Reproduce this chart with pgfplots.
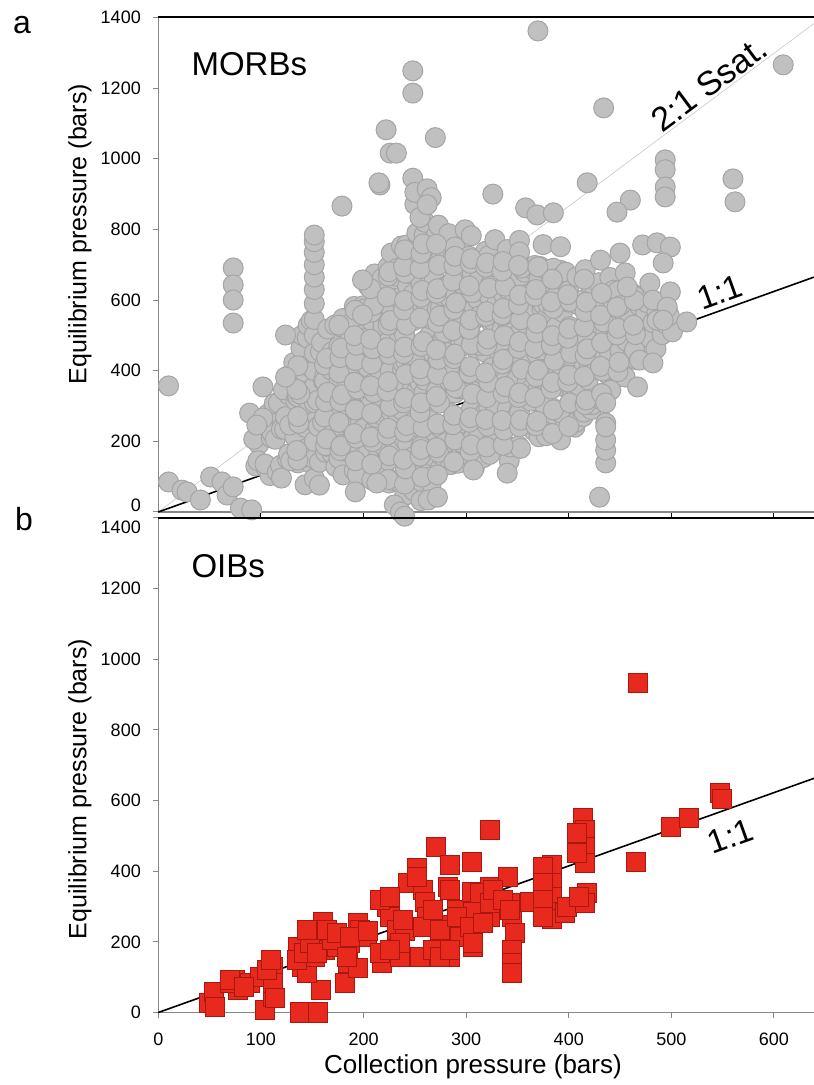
\documentclass[border=0pt]{standalone}
\usepackage{fontspec}
\setmainfont{Liberation Sans}
\usepackage{pgfplots}
\pgfplotsset{compat=1.18}
\definecolor{morbfill}{RGB}{192,192,192}
\definecolor{morbedge}{RGB}{165,165,165}
\definecolor{oibfill}{RGB}{232,42,30}
\definecolor{oibedge}{RGB}{170,22,16}
\definecolor{axgray}{RGB}{134,134,134}
\definecolor{thinline}{RGB}{200,200,200}
\pgfplotsset{
 panel/.style={
  scale only axis, width=655.7bp, height=494.5bp,
  xmin=0, xmax=639, ymin=0, ymax=1400,
  axis x line=bottom, axis y line=left,
  axis line style={axgray, line width=1.6bp, -},
  tick style={axgray, line width=1bp},
  tick align=outside, major tick length=5bp,
  tick label style={font=\fontsize{18bp}{21bp}\selectfont},
  yticklabel style={xshift=-9bp},
  xticklabel style={yshift=-12bp},
  /pgf/number format/assume math mode=true,
  /pgf/number format/1000 sep={},
  clip=false,
 }
}
\begin{document}
\begin{tikzpicture}
\useasboundingbox (0,0) rectangle (814bp,1085bp);
% ---------------- panel a ----------------
\begin{axis}[panel, at={(158.3bp,573bp)}, anchor=south west,
  xtick=\empty, ytick={200,400,...,1400},
  extra y ticks={0}, extra y tick style={yticklabel style={yshift=7bp}}]
\addplot[only marks, mark=*, mark size=10bp, mark options={fill=morbfill, draw=morbedge, line width=1bp}] coordinates {
(95,130)(98,192)(93,206)(104,129)(97,145)
(109,103)(104,136)(110,210)(111,223)(107,278)
(116,113)(119,132)(114,206)(120,234)(113,307)(117,309)
(120,96)(126,150)(127,164)(123,234)(124,270)(127,332)(122,346)
(136,139)(129,145)(133,213)(128,246)(134,315)(135,328)(131,398)(132,423)
(143,77)(138,151)(144,179)(137,252)(141,264)(136,326)(142,380)(143,394)(139,464)(140,500)
(149,137)(144,156)(150,234)(143,240)(147,308)(142,341)(148,410)(149,423)(145,493)(146,528)(149,542)
(152,95)(152,150)(152,200)(152,255)(152,310)(152,355)(152,400)(152,450)(152,500)(152,545)(152,590)(152,630)(152,665)(152,700)(152,735)(152,765)(152,784)
(157,141)(163,169)(156,242)(160,254)(155,316)(161,370)(162,384)(158,454)(159,480)
(169,167)(164,186)(170,264)(163,270)(167,338)(162,371)(168,440)(169,453)(165,518)
(173,128)(176,152)(171,226)(177,254)(170,327)(174,339)(169,401)(175,455)(176,469)(172,529)
(180,105)(183,172)(178,191)(184,269)(177,275)(181,343)(176,376)(182,445)(183,458)(179,523)(180,548)
(191,117)(186,191)(192,219)(185,292)(189,304)(184,366)(190,420)(191,434)(187,504)(188,535)(191,582)
(194,106)(200,184)(193,190)(197,258)(192,291)(198,360)(199,373)(195,443)(196,478)(199,502)(194,571)(200,584)
(201,162)(205,174)(200,236)(206,290)(207,304)(203,374)(204,410)(207,472)(202,491)(208,569)(201,575)(205,638)
(208,91)(214,150)(215,163)(211,233)(212,268)(215,292)(210,366)(216,394)(209,467)(213,479)(208,541)(214,595)(215,609)(211,674)
(220,110)(223,172)(218,191)(224,269)(217,275)(221,343)(216,376)(222,445)(223,458)(219,528)(220,563)(223,587)(218,661)(224,694)
(225,82)(229,89)(224,146)(230,200)(231,214)(227,284)(228,320)(231,382)(226,401)(232,479)(225,485)(229,553)(224,586)(230,655)(231,668)(227,733)
(236,83)(239,102)(234,176)(240,204)(233,277)(237,289)(232,351)(238,405)(239,419)(235,489)(236,525)(239,587)(234,606)(240,684)(233,690)(237,753)
(240,46)(246,115)(247,123)(243,193)(244,228)(247,252)(242,326)(248,354)(241,427)(245,439)(240,501)(246,555)(247,569)(243,639)(244,675)(247,737)(242,756)
(256,54)(249,60)(253,123)(248,156)(254,225)(255,238)(251,308)(252,343)(255,367)(250,441)(256,469)(249,542)(253,554)(248,616)(254,670)(255,684)(251,754)(252,790)(255,852)(250,871)
(264,84)(257,85)(261,153)(256,186)(262,255)(263,268)(259,338)(260,373)(263,397)(258,471)(264,499)(257,572)(261,584)(256,646)(262,700)(263,714)(259,784)(260,820)(263,882)
(266,81)(272,154)(265,160)(269,228)(264,261)(270,330)(271,343)(267,413)(268,448)(271,472)(266,546)(272,574)(265,647)(269,659)(264,721)(270,775)(271,784)
(275,124)(276,160)(279,222)(274,241)(280,319)(273,325)(277,393)(272,426)(278,495)(279,508)(275,578)(276,613)(279,637)(274,711)(280,739)(273,812)
(285,134)(280,196)(286,250)(287,264)(283,334)(284,370)(287,432)(282,451)(288,529)(281,535)(285,603)(280,636)(286,705)(287,718)(283,788)
(292,138)(295,162)(290,236)(296,264)(289,337)(293,349)(288,411)(294,465)(295,479)(291,549)(292,585)(295,647)(290,666)(296,744)(289,750)
(301,163)(296,196)(302,265)(303,278)(299,348)(300,383)(303,407)(298,481)(304,509)(297,582)(301,594)(296,656)(302,710)(303,724)(299,799)
(308,125)(311,187)(306,206)(312,284)(305,290)(309,358)(304,391)(310,460)(311,473)(307,543)(308,578)(311,602)(306,676)(312,704)(305,782)
(317,154)(312,216)(318,270)(319,284)(315,354)(316,390)(319,452)(314,471)(320,549)(313,555)(317,623)(312,656)(318,725)(319,738)
(323,163)(324,198)(327,222)(322,296)(328,324)(321,397)(325,409)(320,471)(326,525)(327,539)(323,609)(324,645)(327,707)(322,726)
(336,199)(329,205)(333,273)(328,306)(334,375)(335,388)(331,458)(332,493)(335,517)(330,591)(336,619)(329,692)(333,704)(328,771)
(342,145)(343,184)(339,254)(340,290)(343,352)(338,371)(344,449)(337,455)(341,523)(336,556)(342,625)(343,638)(339,708)(340,743)
(351,187)(346,261)(352,289)(345,362)(349,374)(344,436)(350,490)(351,504)(347,574)(348,610)(351,672)(346,691)(352,769)
(353,180)(357,248)(352,281)(358,350)(359,363)(355,433)(356,468)(359,492)(354,566)(360,594)(353,667)(357,679)(352,736)
(366,230)(367,244)(363,314)(364,350)(367,412)(362,431)(368,509)(361,515)(365,583)(360,616)(366,685)(367,698)
(371,213)(372,248)(375,272)(370,346)(376,374)(369,447)(373,459)(368,521)(374,575)(375,589)(371,659)(372,695)(375,757)
(378,216)(384,294)(377,300)(381,368)(376,401)(382,470)(383,483)(379,553)(380,588)(383,612)(378,686)
(392,204)(385,277)(389,289)(384,351)(390,405)(391,419)(387,489)(388,525)(391,587)(386,606)(392,684)(385,690)
(397,248)(392,281)(398,350)(399,363)(395,433)(396,468)(399,492)(394,566)(400,594)(393,667)(397,679)(392,751)
(406,240)(407,254)(403,324)(404,360)(407,422)(402,441)(408,519)(401,525)(405,593)(400,626)
(414,270)(415,283)(411,353)(412,388)(415,412)(410,486)(416,514)(409,587)(413,599)(408,666)
(422,290)(423,304)(419,374)(420,410)(423,472)(418,491)(424,569)(417,575)(421,643)(416,686)
(430,320)(431,333)(427,403)(428,438)(431,462)(426,536)(432,564)(425,637)(429,649)
(432,336)(438,390)(439,404)(435,474)(436,510)(439,572)(434,591)(440,664)
(441,345)(445,413)(440,446)(446,515)(447,528)(443,598)(444,628)
(455,382)(450,456)(456,484)(449,557)(453,569)(448,626)
(462,435)(463,449)(459,519)(460,555)(463,617)
(466,431)(472,509)(465,515)(469,583)(464,611)
(478,480)(479,493)(475,563)(476,593)
(485,462)(482,536)(486,566)(491,502)(494,533)(490,590)(501,510)(498,556)
(136,147)(135,174)(137,251)(136,270)(138,334)(135,347)(136,414)
(163,188)(164,207)(162,269)(163,312)(165,339)(162,416)(164,435)
(177,174)(178,187)(176,254)(177,313)(179,332)(176,394)(177,437)(178,464)(176,529)
(192,145)(193,209)(191,222)(192,289)(194,348)(191,367)(192,429)(193,472)(191,499)(192,571)
(208,135)(209,199)(207,212)(208,279)(210,338)(207,357)(208,419)(209,462)(207,489)(208,566)(210,585)(207,632)
(224,92)(225,159)(223,218)(224,237)(226,299)(223,342)(224,369)(225,446)(223,465)(224,529)(226,542)(223,609)(224,668)(225,680)
(240,79)(241,122)(239,149)(240,226)(242,245)(239,309)(240,322)(241,389)(239,448)(240,467)(242,529)(239,572)(240,599)(241,676)(239,695)(240,742)
(256,32)(257,99)(255,158)(256,177)(258,239)(255,282)(256,309)(257,386)(255,405)(256,469)(258,482)(255,549)(256,608)(257,627)(255,689)(256,732)(258,759)(255,834)
(272,105)(273,169)(271,182)(272,249)(274,308)(271,327)(272,389)(273,432)(271,459)(272,536)(274,555)(271,619)(272,632)(273,699)(271,758)
(288,142)(289,204)(287,247)(288,274)(290,351)(287,370)(288,434)(289,447)(287,514)(288,573)(290,592)(287,654)(288,697)(289,724)
(304,171)(305,190)(303,254)(304,267)(306,334)(303,393)(304,412)(305,474)(303,517)(304,544)(306,621)(303,640)(304,704)(305,717)
(320,184)(321,243)(319,262)(320,324)(322,367)(319,394)(320,471)(321,490)(319,554)(320,567)(322,634)(319,693)(320,705)
(336,189)(337,232)(335,259)(336,336)(338,355)(335,419)(336,432)(337,499)(335,558)(336,577)(338,639)(335,682)(336,709)
(352,241)(353,260)(351,324)(352,337)(354,404)(351,463)(352,482)(353,544)(351,587)(352,614)(354,691)(351,698)
(368,244)(369,257)(367,324)(368,383)(370,402)(367,464)(368,507)(369,534)(367,611)(368,630)(370,694)
(384,222)(385,289)(383,348)(384,367)(386,429)(383,472)(384,499)(385,576)(383,595)(384,659)
(400,242)(401,309)(399,368)(400,387)(402,449)(399,492)(400,519)(401,596)(399,615)
(416,304)(417,317)(415,384)(416,443)(418,462)(415,524)(416,567)(417,594)(415,659)
(432,335)(433,399)(431,412)(432,479)(434,538)(431,557)(432,619)
(448,397)(449,424)(447,501)(448,520)(450,584)(447,580)
(464,459)(465,502)(463,529)(464,599)
(10,357)(10,85)(23,62)(28,57)(41,34)(51,99)(62,85)(67,48)(73,71)(80,11)(91,6)
(73,691)(73,643)(73,600)(73,535)
(89,280)(102,266)(102,354)(124,382)(124,501)(96,246)
(157,76)(192,57)(213,82)(230,20)(236,0)(263,34)(240,-12)(272,42)
(179,866)(199,657)(199,558)(216,926)
(370,1362)(609,1266)(248,1249)(248,1186)(434,1144)(222,1082)(226,1016)(232,1016)(270,1060)
(248,945)(250,905)(262,915)(266,890)(262,870)
(215,932)(494,997)(494,969)(494,920)(494,892)(560,943)(562,878)(418,932)(326,900)
(460,883)(447,849)(358,861)(369,841)(385,847)
(515,538)(467,354)(430,42)(307,119)(340,110)
(436,139)(436,175)(436,204)(436,252)(436,241)(436,309)
(472,756)(486,762)(499,750)(492,705)(450,733)(431,713)(455,677)(457,637)
(479,648)(482,600)(499,623)(496,580)(486,543)(469,430)(482,422)(492,543)
};
\addplot[thinline, line width=0.6bp] coordinates {(0,0)(639,1383)};
\addplot[black, line width=1.6bp] coordinates {(0,0)(639,665)};
\draw[black, line width=2bp] (rel axis cs:0,1) -- (rel axis cs:1,1);
\node[rotate=36.6, anchor=south, inner sep=2bp, font=\fontsize{34bp}{38bp}\selectfont] at (axis cs:545,1179) {2:1 Ssat.};
\node[rotate=19.7, anchor=south, inner sep=6bp, font=\fontsize{33bp}{37bp}\selectfont] at (axis cs:553,575) {1:1};
\end{axis}
% ---------------- panel b ----------------
\begin{axis}[panel, at={(158.3bp,72.5bp)}, anchor=south west,
  xtick={0,100,...,600}, ytick={0,200,...,1200},
  extra y ticks={1400}, extra y tick style={yticklabel style={yshift=-9bp}}]
\addplot[only marks, mark=square*, mark size=9.5bp, mark options={fill=oibfill, draw=oibedge, line width=1bp}] coordinates {
(49,26)(54,59)(55,16)(75,92)(78,64)(89,83)(99,101)(104,7)(112,130)(112,45)(112,83)(70,83)(70,92)(84,73)(106,120)(110,149)(114,40)
(138,0)(156,0)(159,64)(182,83)(136.5,186)(139.7,130)(144.6,111)(151,215)(152.7,158)(160.8,257)(162.5,177)(173.9,186)(185.2,139)(195,125)(195,252)(203,215)(187,196)(217.7,139)(216,168)(222.5,300)(225.8,271)(232.3,234)(235.5,158)(243.7,366)(252,408)(258.4,347)(255,158)(240.4,230)(260,314)(271,469)(284.3,418)(282.7,356)(274.6,248)(274.6,196)(284.3,158)(290.8,290)(305.4,427)(305.4,342)(307,285)(307,186)(323.3,517)(323.3,356)(323.3,271)(341,385)(342.8,309)(344.5,271)(347.7,224)(344.5,177)(344.5,139)(344.5,111)(362.3,314)(383.4,418)(383.4,366)(383.4,328)(383.4,285)(383.4,266)(396.4,281)
(135,149)(141.5,168)(148,196)(144.6,234)(154.4,168)(169,205)(164,234)(173.9,224)(196.5,234)(183.6,158)(187,215)(204.7,230)(216,319)(225.8,328)(235.5,196)(225.8,177)(238.8,262)(252,385)(261.5,271)(258.4,243)(268,290)(274.6,234)(268,177)(274.6,158)(284.3,347)(290.8,271)(294,215)(284.3,177)(303.8,243)(307,196)(313.5,337)(323.3,309)(326.5,347)(316.7,252)(336.2,319)(342.8,290)(375,413)(375,366)(375,319)(375,271)(398,300)
(414.3,550)(416,517)(416,469)(416,422)(417.6,337)(416,309)(409.6,328)(408,451)(408,507)
(467,933)(466,427)(500,526)(517.5,550)(547,621)(549,604)
};
\addplot[black, line width=1.6bp] coordinates {(0,0)(639,663)};
\draw[black, line width=2bp] (rel axis cs:0,1) -- (rel axis cs:1,1);
\pgfplotsinvokeforeach{100,200,300,400,500,600}{\draw[black, line width=1bp] (axis cs:#1,1400) -- ++(0,5bp);}
\node[rotate=19.7, anchor=north, inner sep=15bp, font=\fontsize{33bp}{37bp}\selectfont] at (axis cs:549,570) {1:1};
\end{axis}
% ---------------- texts ----------------
\node[font=\fontsize{33bp}{38bp}\selectfont, anchor=west] at (188bp,1021bp) {MORBs};
\node[font=\fontsize{33bp}{38bp}\selectfont, anchor=west] at (188bp,519bp) {OIBs};
\node[font=\fontsize{32bp}{36bp}\selectfont] at (22bp,1060bp) {a};
\node[font=\fontsize{32bp}{36bp}\selectfont] at (24bp,566bp) {b};
\node[rotate=90, font=\fontsize{25bp}{29bp}\selectfont] at (80bp,851bp) {Equilibrium pressure (bars)};
\node[rotate=90, font=\fontsize{25bp}{29bp}\selectfont] at (80bp,296bp) {Equilibrium pressure (bars)};
\node[font=\fontsize{26bp}{30bp}\selectfont] at (473bp,18bp) {Collection pressure (bars)};
\end{tikzpicture}
\end{document}
